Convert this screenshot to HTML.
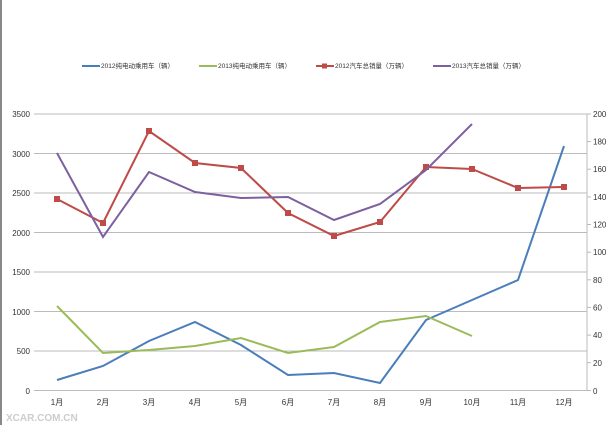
<!DOCTYPE html><html><head><meta charset="utf-8"><style>body{margin:0;background:#fff}svg{display:block;font-family:"Liberation Sans","Noto Sans CJK SC",sans-serif}</style></head><body>
<svg width="608" height="425" viewBox="0 0 608 425">
<rect x="0" y="0" width="608" height="425" fill="#fff"/>
<line x1="1" y1="0" x2="1" y2="425" stroke="#888" stroke-width="2"/>
<g stroke="#bbb" stroke-width="1">
<line x1="34" y1="114" x2="587" y2="114"/><line x1="34" y1="153.5" x2="587" y2="153.5"/><line x1="34" y1="193" x2="587" y2="193"/><line x1="34" y1="232.5" x2="587" y2="232.5"/><line x1="34" y1="272" x2="587" y2="272"/><line x1="34" y1="311.5" x2="587" y2="311.5"/><line x1="34" y1="351" x2="587" y2="351"/><line x1="34" y1="390.5" x2="587" y2="390.5"/>
<line x1="587" y1="114" x2="587" y2="390.5"/>
<line x1="587" y1="114" x2="591" y2="114"/><line x1="587" y1="141.6" x2="591" y2="141.6"/><line x1="587" y1="169.2" x2="591" y2="169.2"/><line x1="587" y1="196.9" x2="591" y2="196.9"/><line x1="587" y1="224.5" x2="591" y2="224.5"/><line x1="587" y1="252.2" x2="591" y2="252.2"/><line x1="587" y1="279.8" x2="591" y2="279.8"/><line x1="587" y1="307.4" x2="591" y2="307.4"/><line x1="587" y1="335.1" x2="591" y2="335.1"/><line x1="587" y1="362.7" x2="591" y2="362.7"/><line x1="587" y1="390.5" x2="591" y2="390.5"/>
</g>
<g font-size="8" fill="#333" text-anchor="end">
<text x="30" y="117">3500</text><text x="30" y="157">3000</text><text x="30" y="196">2500</text><text x="30" y="236">2000</text><text x="30" y="275">1500</text><text x="30" y="315">1000</text><text x="30" y="354">500</text><text x="30" y="394">0</text></g>
<g font-size="8" fill="#333">
<text x="593" y="117">200</text><text x="593" y="144.5">180</text><text x="593" y="172">160</text><text x="593" y="200">140</text><text x="593" y="227.5">120</text><text x="593" y="255">100</text><text x="593" y="283">80</text><text x="593" y="310.5">60</text><text x="593" y="338">40</text><text x="593" y="366">20</text><text x="593" y="394">0</text></g>
<g font-size="8" fill="#333" text-anchor="middle">
<text x="57" y="405">1月</text><text x="103" y="405">2月</text><text x="149" y="405">3月</text><text x="195" y="405">4月</text><text x="241" y="405">5月</text><text x="288" y="405">6月</text><text x="334" y="405">7月</text><text x="380" y="405">8月</text><text x="426" y="405">9月</text><text x="472" y="405">10月</text><text x="518" y="405">11月</text><text x="564" y="405">12月</text></g>
<polyline fill="none" stroke="#4a7ebb" stroke-width="2" points="57,380 103,366 149,341 195,322 241,345 288,375 334,373 380,383 426,320 472,300 518,280 564,146"/>
<polyline fill="none" stroke="#9bbb59" stroke-width="2" points="57,306 103,353 149,350 195,346 241,338 288,353 334,347 380,322 426,316 472,336"/>
<polyline fill="none" stroke="#be4b48" stroke-width="2" points="57,199 103,223 149,131 195,163 241,168 288,213 334,236 380,222 426,167 472,169 518,188 564,187"/>
<g fill="#be4b48"><rect x="54" y="196" width="6" height="6"/><rect x="100" y="220" width="6" height="6"/><rect x="146" y="128" width="6" height="6"/><rect x="192" y="160" width="6" height="6"/><rect x="238" y="165" width="6" height="6"/><rect x="285" y="210" width="6" height="6"/><rect x="331" y="233" width="6" height="6"/><rect x="377" y="219" width="6" height="6"/><rect x="423" y="164" width="6" height="6"/><rect x="469" y="166" width="6" height="6"/><rect x="515" y="185" width="6" height="6"/><rect x="561" y="184" width="6" height="6"/></g>
<polyline fill="none" stroke="#7d60a0" stroke-width="2" points="57,153 103,237 149,172 195,192 241,198 288,197 334,220 380,204 426,170 472,124"/>
<g font-size="6.5" fill="#333">
<line x1="82" y1="66" x2="100" y2="66" stroke="#4a7ebb" stroke-width="2"/><text x="101" y="68">2012纯电动乘用车（辆）</text>
<line x1="199" y1="66" x2="217" y2="66" stroke="#9bbb59" stroke-width="2"/><text x="218" y="68">2013纯电动乘用车（辆）</text>
<line x1="316" y1="66" x2="334" y2="66" stroke="#be4b48" stroke-width="2"/><rect x="322" y="63.5" width="5" height="5" fill="#be4b48"/><text x="335" y="68">2012汽车总销量（万辆）</text>
<line x1="433" y1="66" x2="451" y2="66" stroke="#7d60a0" stroke-width="2"/><text x="452" y="68">2013汽车总销量（万辆）</text></g>
<text x="6" y="421" font-size="10" fill="#ccc" font-weight="bold">XCAR.COM.CN</text>
</svg></body></html>
